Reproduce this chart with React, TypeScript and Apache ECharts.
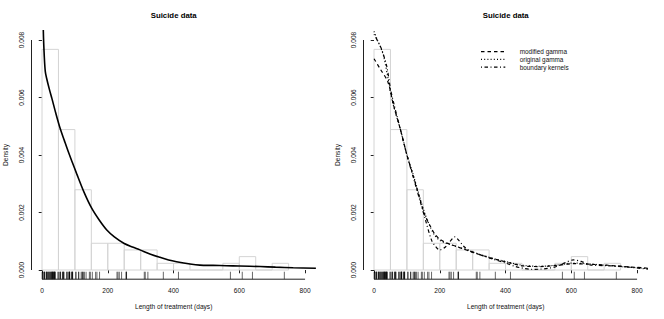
import React, { useEffect, useRef } from "react";
import * as echarts from "echarts";

// ---- data ----
const breaks = [0, 50, 100, 150, 200, 250, 300, 350, 400, 450, 500, 550, 600, 650, 700, 750];
const counts = [33, 21, 12, 4, 4, 3, 3, 1, 1, 0, 0, 1, 2, 0, 1];
const nObs = 86;

const rugValues = [
  1, 1, 1, 5, 7, 8, 8, 13, 14, 14, 17, 18, 21, 21, 22, 25, 27, 27, 30, 30, 31, 31, 32, 34, 35, 36, 37, 38, 39, 39,
  40, 49, 49, 54, 56, 56, 62, 63, 65, 65, 67, 75, 76, 79, 82, 83, 84, 84, 84, 90, 91, 92, 93, 93, 103, 103, 111,
  112, 119, 122, 123, 126, 129, 134, 144, 147, 153, 163, 167, 175, 228, 231, 235, 242, 256, 256, 257, 311, 314,
  322, 369, 415, 573, 609, 640, 737,
];

// left panel curve
const leftCurve: [number, number][] = [
  [1, 0.0105], [4, 0.0083], [7, 0.0074], [10, 0.0069], [14, 0.00667], [22, 0.0063], [30, 0.00597], [42, 0.00545],
  [55, 0.00493], [68, 0.0045], [80, 0.00411], [92, 0.00375], [105, 0.00336], [128, 0.0027], [151, 0.00215],
  [175, 0.00172], [197, 0.00139], [220, 0.00115], [250, 0.00092], [275, 0.0008], [298, 0.0007], [330, 0.00055],
  [359, 0.00044], [385, 0.00035], [409, 0.00029], [450, 0.00021], [480, 0.00017], [520, 0.00016], [561, 0.00015],
  [600, 0.00014], [663, 0.00012], [710, 0.0001], [764, 0.00008], [833, 0.00006],
];

// right panel curves
const modifiedGamma: [number, number][] = [
  [0, 0.00735], [20, 0.00697], [42, 0.00655], [60, 0.0057], [80, 0.0049], [100, 0.004], [120, 0.00325],
  [140, 0.00245], [155, 0.0019], [170, 0.00155], [185, 0.00125], [200, 0.00107], [215, 0.00097], [230, 0.0009],
  [250, 0.00082], [270, 0.00074], [292, 0.00065], [320, 0.00054], [342, 0.00046], [370, 0.00037], [413, 0.00025],
  [454, 0.00014], [505, 0.00012], [555, 0.00016], [606, 0.00022], [657, 0.0002], [707, 0.00017], [758, 0.00012],
  [800, 0.00009], [833, 0.00006],
];
const originalGamma: [number, number][] = [
  [0, 0.0083], [10, 0.008], [20, 0.00775], [30, 0.0074], [42, 0.0067], [55, 0.0059], [80, 0.0049], [100, 0.00402],
  [120, 0.00328], [140, 0.0025], [155, 0.00195], [170, 0.00152], [185, 0.0012], [200, 0.00103], [215, 0.00095],
  [230, 0.00089], [250, 0.00082], [270, 0.00075], [292, 0.00066], [320, 0.00055], [342, 0.00047], [370, 0.00038],
  [413, 0.00026], [454, 0.00016], [505, 0.00013], [555, 0.00017], [606, 0.00024], [657, 0.00021], [707, 0.00016],
  [758, 0.00011], [800, 0.00008], [833, 0.00005],
];
const boundaryKernels: [number, number][] = [
  [0, 0.0082], [14, 0.0079], [24, 0.00765], [39, 0.00707], [50, 0.0063], [60, 0.0058], [80, 0.0049], [100, 0.004],
  [120, 0.0032], [140, 0.0024], [155, 0.0018], [175, 0.00104], [190, 0.00078], [200, 0.0007], [215, 0.00078],
  [230, 0.00098], [246, 0.00115], [260, 0.001], [275, 0.0008], [292, 0.00066], [320, 0.00054], [353, 0.00041],
  [403, 0.00023], [430, 0.00012], [454, 0.00006], [480, 0.00002], [505, 0.00003], [530, 0.00006], [555, 0.00012],
  [580, 0.00025], [606, 0.00035], [630, 0.0003], [657, 0.00018], [707, 0.00015], [758, 0.00012], [800, 0.00007],
  [833, 0.00003],
];

const xTicks = [0, 200, 400, 600, 800];
const yTicks = [0, 0.002, 0.004, 0.006, 0.008];
const titleText = "Suicide data";
const xName = "Length of treatment (days)";
const yName = "Density";
const legendNames = ["modified gamma", "original gamma", "boundary kernels"];

// ---- layout / styles ----
const XMIN = -32;
const XMAX = 833;
const YMIN = -0.00032;
const YMAX = 0.00832;
const FONT = "Liberation Sans, Arial, Helvetica, sans-serif";
const grids = [
  { left: 31.5, top: 30.8, width: 284.4, height: 248.4 },
  { left: 363.5, top: 30.8, width: 284.4, height: 248.4 },
];
const dashes: number[][] = [
  [3.5, 3],
  [1, 2.2],
  [1, 2.5, 3.5, 2.5],
];

const histData = counts.map((c, i) => [breaks[i], breaks[i + 1], c / (nObs * 50)]);

function histSeries(idx: number) {
  return {
    type: "custom",
    xAxisIndex: idx,
    yAxisIndex: idx,
    data: histData,
    silent: true,
    renderItem: (_p: any, api: any) => {
      const tl = api.coord([api.value(0), api.value(2)]);
      const br = api.coord([api.value(1), 0]);
      return {
        type: "rect",
        shape: { x: tl[0], y: tl[1], width: br[0] - tl[0], height: br[1] - tl[1] },
        style: { fill: "none", stroke: "#d4d4d4", lineWidth: 1 },
      };
    },
  };
}

function rugSeries(idx: number) {
  return {
    type: "custom",
    xAxisIndex: idx,
    yAxisIndex: idx,
    data: rugValues.map((v) => [v]),
    silent: true,
    renderItem: (_p: any, api: any) => {
      const a = api.coord([api.value(0), YMIN]);
      const b = api.coord([api.value(0), YMIN + 0.03 * (YMAX - YMIN)]);
      return {
        type: "line",
        shape: { x1: a[0], y1: a[1], x2: b[0], y2: b[1] },
        style: { stroke: "#000", lineWidth: 0.6 },
      };
    },
  };
}

function axisLineSeries(idx: number) {
  return {
    type: "custom",
    xAxisIndex: idx,
    yAxisIndex: idx,
    data: [[0]],
    silent: true,
    renderItem: (_p: any, api: any) => {
      const x0 = api.coord([xTicks[0], YMIN]);
      const x1 = api.coord([xTicks[xTicks.length - 1], YMIN]);
      const y0 = api.coord([XMIN, yTicks[0]]);
      const y1 = api.coord([XMIN, yTicks[yTicks.length - 1]]);
      return {
        type: "group",
        children: [
          { type: "line", shape: { x1: x0[0], y1: x0[1], x2: x1[0], y2: x1[1] }, style: { stroke: "#222", lineWidth: 1 } },
          { type: "line", shape: { x1: y0[0], y1: y0[1], x2: y1[0], y2: y1[1] }, style: { stroke: "#222", lineWidth: 1 } },
        ],
      };
    },
  };
}

function xAxisCfg(idx: number) {
  return {
    type: "value",
    gridIndex: idx,
    min: XMIN,
    max: XMAX,
    splitLine: { show: false },
    axisLine: { show: false },
    axisTick: { show: true, customValues: xTicks, length: 3.3, lineStyle: { color: "#222", width: 1 } },
    axisLabel: {
      show: true,
      customValues: xTicks,
      margin: 8,
      fontSize: 6.6,
      fontFamily: FONT,
      color: "#111",
      formatter: (v: number) => String(v),
    },
    name: xName,
    nameLocation: "middle",
    nameGap: 23.8,
    nameTextStyle: { fontSize: 6.6, fontFamily: FONT, color: "#111" },
  };
}

function yAxisCfg(idx: number) {
  return {
    type: "value",
    gridIndex: idx,
    min: YMIN,
    max: YMAX,
    splitLine: { show: false },
    axisLine: { show: false },
    axisTick: { show: true, customValues: yTicks, length: 3.3, lineStyle: { color: "#222", width: 1 } },
    axisLabel: {
      show: true,
      customValues: yTicks,
      rotate: 90,
      margin: 6.5,
      fontSize: 6.6,
      fontFamily: FONT,
      color: "#111",
      formatter: (v: number) => v.toFixed(3),
    },
    name: yName,
    nameLocation: "middle",
    nameRotate: 90,
    nameGap: 23,
    nameTextStyle: { fontSize: 6.6, fontFamily: FONT, color: "#111" },
  };
}

export default function App() {
  const ref = useRef<HTMLDivElement>(null);
  useEffect(() => {
    if (!ref.current) return;
    const chart = echarts.init(ref.current, undefined, { renderer: "svg" });
    const lineBase = { type: "line", showSymbol: false, symbol: "none", smooth: 0.3, silent: true };
    const legendRows0 = 51.7;
    const legendStep = 7.7;
    const legendGraphics: any[] = [];
    legendNames.forEach((name, i) => {
      const y = legendRows0 + i * legendStep;
      legendGraphics.push({
        type: "line",
        shape: { x1: 481, y1: y, x2: 505.3, y2: y },
        style: { stroke: "#000", lineWidth: 1.2, lineDash: dashes[i] },
      });
      legendGraphics.push({
        type: "text",
        x: 519.7,
        y,
        style: { text: name, textAlign: "left", textVerticalAlign: "middle", font: `6.4px ${FONT}`, fill: "#111" },
      });
    });
    chart.setOption({
      animation: false,
      backgroundColor: "#fff",
      grid: grids.map((g) => ({ ...g, containLabel: false })),
      xAxis: [xAxisCfg(0), xAxisCfg(1)],
      yAxis: [yAxisCfg(0), yAxisCfg(1)],
      graphic: [
        {
          type: "text",
          x: grids[0].left + grids[0].width / 2,
          y: 15,
          style: { text: titleText, textAlign: "center", textVerticalAlign: "middle", font: `bold 7.8px ${FONT}`, fill: "#000" },
        },
        {
          type: "text",
          x: grids[1].left + grids[1].width / 2,
          y: 15,
          style: { text: titleText, textAlign: "center", textVerticalAlign: "middle", font: `bold 7.8px ${FONT}`, fill: "#000" },
        },
        ...legendGraphics,
      ],
      series: [
        histSeries(0),
        histSeries(1),
        rugSeries(0),
        rugSeries(1),
        axisLineSeries(0),
        axisLineSeries(1),
        {
          ...lineBase,
          name: "density",
          xAxisIndex: 0,
          yAxisIndex: 0,
          data: leftCurve,
          lineStyle: { color: "#000", width: 1.6 },
        },
        ...[modifiedGamma, originalGamma, boundaryKernels].map((d, i) => ({
          ...lineBase,
          name: legendNames[i],
          xAxisIndex: 1,
          yAxisIndex: 1,
          data: d,
          lineStyle: { color: "#000", width: 1.2, type: dashes[i] },
        })),
      ],
    });
    return () => chart.dispose();
  }, []);
  return (
    <div
      ref={ref}
      style={{ position: "fixed", left: 0, top: 0, width: 664, height: 319, background: "#fff" }}
    />
  );
}
